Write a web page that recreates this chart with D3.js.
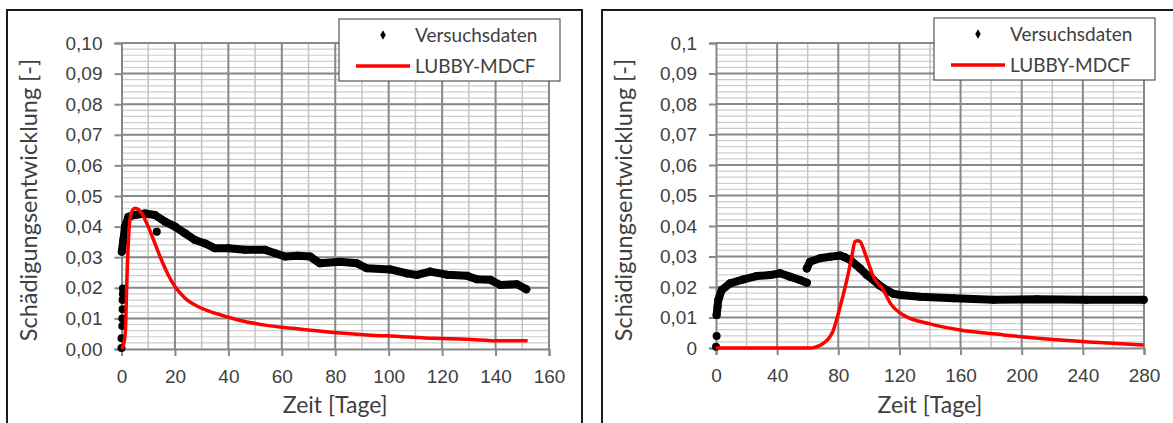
<!DOCTYPE html>
<html>
<head>
<meta charset="utf-8">
<script src="https://cdn.jsdelivr.net/npm/d3@7"></script>
<style>
	body { margin: 0; background: #fff; }
	svg { display: block; font-family: Lato, 'Open Sans', sans-serif; }
	.tick text { fill: #404040; }
</style>
</head>
<body>
<svg width="1173" height="423"></svg>
<script>
// left chart: Versuchsdaten (scattered start + trend) and LUBBY-MDCF
var leftStart = [[0, 0.0003], [0, 0.0035], [0.3, 0.0075], [0.3, 0.010], [0.4, 0.013],
	[0.4, 0.016], [0.5, 0.018], [0.5, 0.0198], [13.2, 0.0383]];
var leftData = [[0.1, 0.0318], [0.7, 0.0356], [1.3, 0.040], [2.6, 0.0432], [5, 0.0438],
	[8.8, 0.0443], [12.5, 0.0438], [16.3, 0.0416], [20, 0.040], [23.8, 0.0378], [27.5, 0.0356],
	[31.3, 0.0345], [35, 0.0329], [40, 0.0329], [46.3, 0.0324], [53.7, 0.0324], [57.5, 0.0313],
	[61.2, 0.0302], [66, 0.0305], [70.6, 0.0302], [74.3, 0.028], [81.8, 0.0285], [88.1, 0.028],
	[91.8, 0.0264], [100.6, 0.026], [106.8, 0.0247], [110.6, 0.0242], [115.5, 0.0253],
	[121.8, 0.0243], [129.3, 0.0239], [133, 0.0228], [138, 0.0226], [141.8, 0.0209],
	[148, 0.0212], [151.5, 0.0195]];
var leftModel = [[0, 0], [0.8, 0.0015], [1.5, 0.0065], [1.9, 0.0193], [2.6, 0.0356],
	[3.6, 0.0443], [5, 0.046], [6, 0.0458], [7.6, 0.0443], [10, 0.040], [12.5, 0.0345],
	[15, 0.029], [17.5, 0.0242], [20, 0.0204], [23.8, 0.0166], [28.8, 0.0138], [35, 0.0117],
	[43.7, 0.0095], [53.7, 0.0078], [63.7, 0.0068], [79.4, 0.0054], [91.8, 0.0046],
	[104, 0.0041], [116.8, 0.0035], [129, 0.0032], [141.8, 0.0027], [152, 0.0027]];
var leftXTicks = [0, 20, 40, 60, 80, 100, 120, 140, 160];
var leftYTicks = [0, 0.01, 0.02, 0.03, 0.04, 0.05, 0.06, 0.07, 0.08, 0.09, 0.10];
var leftYLabels = ['0,00', '0,01', '0,02', '0,03', '0,04', '0,05', '0,06', '0,07', '0,08', '0,09', '0,10'];

// right chart
var rightStart = [[0, 0.0004], [0.4, 0.0039]];
var rightDataA = [[0.4, 0.0108], [1.0, 0.0135], [1.5, 0.0157], [3.7, 0.019], [9.2, 0.0212],
	[17.9, 0.0225], [26.6, 0.0236], [35.4, 0.0239], [41.9, 0.0245], [48.4, 0.0234],
	[55, 0.0223], [59.4, 0.0214]];
var rightDataB = [[59.4, 0.0261], [61.5, 0.0283], [68, 0.0294], [74.6, 0.0299], [81.2, 0.0303],
	[84, 0.0298], [87.7, 0.0289], [94.3, 0.0261], [98.6, 0.024], [103, 0.0223], [107, 0.0205],
	[111.7, 0.019], [116, 0.0178], [120.5, 0.0174], [133.5, 0.0168], [155.4, 0.0163],
	[181.5, 0.0158], [210, 0.016], [242.7, 0.0158], [279.8, 0.0158]];
var rightModel = [[0, 0], [30, 0], [61.5, 0], [65, 0.0003], [70.2, 0.0015], [76.8, 0.0059],
	[81.2, 0.0135], [85.6, 0.0223], [88.8, 0.0299], [91, 0.0349], [92.7, 0.0352], [94.3, 0.0349],
	[97.5, 0.031], [103, 0.0234], [109.5, 0.019], [114, 0.0147], [122.6, 0.0108], [140, 0.0079],
	[159.7, 0.0059], [188, 0.0043], [220.8, 0.0028], [253.6, 0.0017], [279.8, 0.001]];
var rightXTicks = [0, 40, 80, 120, 160, 200, 240, 280];
var rightYTicks = [0, 0.01, 0.02, 0.03, 0.04, 0.05, 0.06, 0.07, 0.08, 0.09, 0.1];
var rightYLabels = ['0', '0,01', '0,02', '0,03', '0,04', '0,05', '0,06', '0,07', '0,08', '0,09', '0,1'];

var legendNames = ['Versuchsdaten', 'LUBBY-MDCF'];

var svg = d3.select('svg');

function drawPanel(cfg) {
	var g = svg.append('g');

	// panel frame
	g.append('rect')
		.attr('x', cfg.frame[0]).attr('y', cfg.frame[1])
		.attr('width', cfg.frame[2]).attr('height', cfg.frame[3])
		.attr('fill', '#fff').attr('stroke', '#1a1a1a').attr('stroke-width', 2);

	var x = d3.scaleLinear().domain([0, cfg.xMax]).range([cfg.L, cfg.R]);
	var y = d3.scaleLinear().domain([0, 0.1]).range([cfg.B, cfg.T]);

	// minor grid
	var grid = g.append('g');
	grid.selectAll('.hmin').data(d3.range(0, 0.1001, 0.002))
		.enter().append('line')
		.attr('x1', cfg.L).attr('x2', cfg.R)
		.attr('y1', function(d) { return y(d); }).attr('y2', function(d) { return y(d); })
		.attr('stroke', '#cdcdcd').attr('stroke-width', 1.2);
	grid.selectAll('.vmin').data(d3.range(cfg.xMinor, cfg.xMax, cfg.xMinor * 2))
		.enter().append('line')
		.attr('x1', function(d) { return x(d); }).attr('x2', function(d) { return x(d); })
		.attr('y1', cfg.T).attr('y2', cfg.B)
		.attr('stroke', '#c4c4c4').attr('stroke-width', 1.5);
	// major grid
	grid.selectAll('.hmaj').data(cfg.yTicks.slice(1))
		.enter().append('line')
		.attr('x1', cfg.L).attr('x2', cfg.R)
		.attr('y1', function(d) { return y(d); }).attr('y2', function(d) { return y(d); })
		.attr('stroke', '#888').attr('stroke-width', 2);
	grid.selectAll('.vmaj').data(cfg.xTicks.slice(1))
		.enter().append('line')
		.attr('x1', function(d) { return x(d); }).attr('x2', function(d) { return x(d); })
		.attr('y1', cfg.T).attr('y2', cfg.B)
		.attr('stroke', '#888').attr('stroke-width', 2);

	var xAxis = d3.axisBottom(x).tickValues(cfg.xTicks).tickSize(7).tickPadding(14)
		.tickFormat(function(d) { return d; });
	var yAxis = d3.axisLeft(y).tickValues(cfg.yTicks).tickSize(7).tickPadding(12)
		.tickFormat(function(d, i) { return cfg.yLabels[i]; });

	var xa = g.append('g').attr('transform', 'translate(0,' + cfg.B + ')').call(xAxis);
	var ya = g.append('g').attr('transform', 'translate(' + cfg.L + ',0)').call(yAxis);
	[xa, ya].forEach(function(a) {
		a.select('.domain').attr('stroke', '#888').attr('stroke-width', 2);
		a.selectAll('.tick line').attr('stroke', '#888').attr('stroke-width', 2);
		a.selectAll('.tick text').style('font-size', '19px');
	});

	// series
	var line = d3.line()
		.x(function(d) { return x(d[0]); })
		.y(function(d) { return y(d[1]); });

	cfg.trends.forEach(function(tr) {
		g.append('path').attr('d', line(tr))
			.attr('fill', 'none').attr('stroke', '#000')
			.attr('stroke-width', 8).attr('stroke-linejoin', 'round').attr('stroke-linecap', 'round');
	});
	var pts = cfg.start.concat.apply(cfg.start, cfg.trends);
	g.selectAll('.pt').data(pts).enter().append('circle')
		.attr('cx', function(d) { return x(d[0]); })
		.attr('cy', function(d) { return y(d[1]); })
		.attr('r', 4).attr('fill', '#000');

	g.append('path').attr('d', line.curve(d3.curveMonotoneX)(cfg.model))
		.attr('fill', 'none').attr('stroke', '#ff0000').attr('stroke-width', 3.5)
		.attr('stroke-linejoin', 'round');

	// legend
	var lg = g.append('g').attr('transform', 'translate(' + cfg.legend[0] + ',' + cfg.legend[1] + ')');
	lg.append('rect').attr('width', 221).attr('height', 62)
		.attr('fill', '#fff').attr('stroke', '#555').attr('stroke-width', 1.2);
	lg.append('path').attr('d', d3.symbol(d3.symbolDiamond, 26)())
		.attr('transform', 'translate(44,16)').attr('fill', '#000');
	lg.append('line').attr('x1', 17).attr('x2', 71).attr('y1', 47).attr('y2', 47)
		.attr('stroke', '#ff0000').attr('stroke-width', 3.5);
	lg.selectAll('text').data(legendNames).enter().append('text')
		.attr('x', 76).attr('y', function(d, i) { return 16 + i * 31; })
		.attr('dy', '0.35em')
		.style('font-size', '19px').attr('fill', '#404040')
		.text(function(d) { return d; });

	// axis titles
	g.append('text')
		.attr('x', (cfg.L + cfg.R) / 2).attr('y', 413)
		.attr('text-anchor', 'middle')
		.style('font-size', '23px').attr('fill', '#404040')
		.text('Zeit [Tage]');
	g.append('text')
		.attr('transform', 'translate(' + cfg.titleX + ',' + 200 + ') rotate(-90)')
		.attr('text-anchor', 'middle').attr('dy', '0.35em')
		.style('font-size', '23.5px').attr('fill', '#404040')
		.text('Schädigungsentwicklung [-]');
}

drawPanel({
	frame: [7, 10, 575, 430],
	L: 121.5, R: 549, T: 43, B: 349,
	xMax: 160, xMinor: 10,
	xTicks: leftXTicks, yTicks: leftYTicks, yLabels: leftYLabels,
	start: leftStart, trends: [leftData], model: leftModel,
	legend: [339, 19], titleX: 29
});

drawPanel({
	frame: [602, 10, 600, 430],
	L: 716, R: 1144, T: 43, B: 348,
	xMax: 280, xMinor: 20,
	xTicks: rightXTicks, yTicks: rightYTicks, yLabels: rightYLabels,
	start: rightStart, trends: [rightDataA, rightDataB], model: rightModel,
	legend: [934, 18], titleX: 624
});
</script>
</body>
</html>
